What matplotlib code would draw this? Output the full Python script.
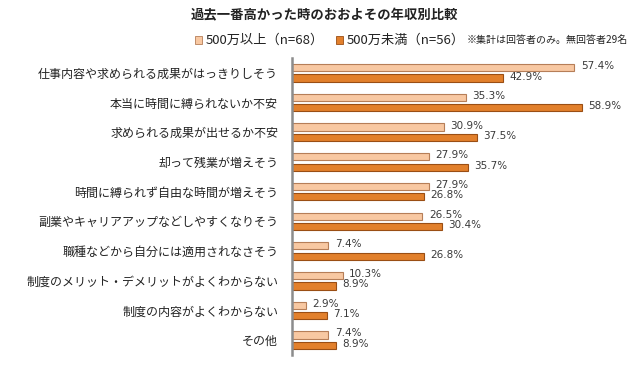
import matplotlib
matplotlib.use("Agg")
import matplotlib.pyplot as plt
import numpy as np
from matplotlib.patches import Rectangle

plt.rcParams['font.family'] = ['Noto Sans CJK JP', 'DejaVu Sans']

title = "過去一番高かった時のおおよその年収別比較"
categories = [
    "仕事内容や求められる成果がはっきりしそう",
    "本当に時間に縛られないか不安",
    "求められる成果が出せるか不安",
    "却って残業が増えそう",
    "時間に縛られず自由な時間が増えそう",
    "副業やキャリアアップなどしやすくなりそう",
    "職種などから自分には適用されなさそう",
    "制度のメリット・デメリットがよくわからない",
    "制度の内容がよくわからない",
    "その他",
]
series_names = ["500万以上（n=68）", "500万未満（n=56）"]
over500 = [57.4, 35.3, 30.9, 27.9, 27.9, 26.5, 7.4, 10.3, 2.9, 7.4]
under500 = [42.9, 58.9, 37.5, 35.7, 26.8, 30.4, 26.8, 8.9, 7.1, 8.9]
note = "※集計は回答者のみ。無回答者29名"

colors = ["#F8C8A2", "#E2802C"]
edges = ["#B67E58", "#9A4E14"]

fig = plt.figure(figsize=(6.4, 3.7), dpi=100)
ax = fig.add_axes([292/640, 1 - 355/370, 1 - 292/640, (355 - 58)/370])

y = np.arange(len(categories))
h = 0.24
off = 0.175
for vals, dy, c, e in [(over500, -off, colors[0], edges[0]), (under500, off, colors[1], edges[1])]:
    ax.barh(y + dy, vals, height=h, color=c, edgecolor=e, linewidth=0.8)
    for yy, v in zip(y + dy, vals):
        ax.text(v + 1.3, yy - 0.05, f"{v}%", va='center', ha='left', fontsize=7.5,
                color="#3A3A3A", family=['DejaVu Sans'])

ax.set_xlim(0, 348/4.92)
ax.set_ylim(len(categories) - 0.5, -0.5)
ax.set_yticks(y)
ax.set_yticklabels(categories, fontsize=8.65, color="#222222")
ax.tick_params(axis='y', length=0, pad=10)
ax.set_xticks([])
for s in ['top', 'right', 'bottom']:
    ax.spines[s].set_visible(False)
ax.spines['left'].set_color("#8C8C8C")
ax.spines['left'].set_linewidth(1.8)

fig.text(324/640, 1 - 15/370, title, ha='center', va='center', fontsize=9.6,
         fontweight='bold', color="#222222")

# legend
ly = 1 - 40/370
for x0, name, c, e in [(195, series_names[0], colors[0], edges[0]), (336, series_names[1], colors[1], edges[1])]:
    fig.patches.append(Rectangle((x0/640, ly - 3.5/370), 7/640, 7/370, transform=fig.transFigure,
                                 facecolor=c, edgecolor=e, linewidth=0.6))
    fig.text((x0 + 11)/640, ly, name, ha='left', va='center', fontsize=9.5, color="#222222")
fig.text(467/640, ly, note, ha='left', va='center', fontsize=7.2, color="#222222")

fig.savefig("out.png", dpi=100)
